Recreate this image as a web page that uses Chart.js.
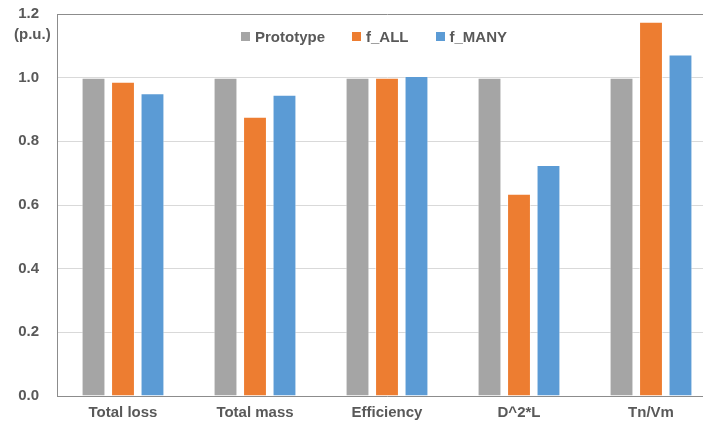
<!DOCTYPE html>
<html>
<head>
<meta charset="utf-8">
<script src="https://cdn.jsdelivr.net/npm/chart.js@4/dist/chart.umd.min.js"></script>
<style>
  html, body { margin: 0; padding: 0; background: #fff; overflow: hidden; }
  #wrap { position: relative; width: 717px; height: 430px; }
  #legend {
    position: absolute; left: 241px; top: 28px;
    display: flex; align-items: center;
    font: bold 15px "Liberation Sans", Arial, sans-serif; color: #595959;
    white-space: nowrap;
  }
  #legend .item { display: flex; align-items: center; margin-right: 27px; }
  #legend .box { width: 9px; height: 9px; margin-right: 5px; }
</style>
</head>
<body>
<div id="wrap"><canvas id="c"></canvas><div id="legend"></div></div>
<script>
// Normalised design metrics (per unit, relative to the prototype)
const categories = ['Total loss', 'Total mass', 'Efficiency', 'D^2*L', 'Tn/Vm'];
const prototype = [1.0, 1.0, 1.0, 1.0, 1.0];
const fAll = [0.987, 0.877, 1.0, 0.635, 1.176];
const fMany = [0.951, 0.946, 1.005, 0.726, 1.073];
const yTicks = [0, 0.2, 0.4, 0.6, 0.8, 1.0, 1.2];
const unitLabel = '(p.u.)';

const textColor = '#595959';
const font = { family: '"Liberation Sans", Arial, sans-serif', size: 15, weight: 'bold' };

// Draws the unit note under the top value label of the y axis
const unitNote = {
  id: 'unitNote',
  afterDraw(chart) {
    const y = chart.scales.y;
    const ctx = chart.ctx;
    ctx.save();
    ctx.font = `bold ${font.size}px ${font.family}`;
    ctx.fillStyle = textColor;
    ctx.textAlign = 'left';
    ctx.textBaseline = 'middle';
    ctx.fillText(unitLabel, 14, y.getPixelForValue(yTicks[yTicks.length - 1]) + 21);
    ctx.restore();
  }
};

const barBorder = 'rgba(255,255,255,0.55)';

const chart = new Chart(document.getElementById('c'), {
  type: 'bar',
  data: {
    labels: categories,
    datasets: [
      { label: 'Prototype', data: prototype, backgroundColor: '#A5A5A5', borderColor: barBorder, borderWidth: 1 },
      { label: 'f_ALL', data: fAll, backgroundColor: '#ED7D31', borderColor: barBorder, borderWidth: 1 },
      { label: 'f_MANY', data: fMany, backgroundColor: '#5B9BD5', borderColor: barBorder, borderWidth: 1 }
    ]
  },
  options: {
    responsive: true,
    maintainAspectRatio: false,
    animation: false,
    layout: { padding: { top: 14, right: 0, bottom: 0, left: 0 } },
    datasets: { bar: { categoryPercentage: 0.67, barPercentage: 0.81 } },
    plugins: {
      legend: { display: false },
      tooltip: { enabled: false }
    },
    scales: {
      x: {
        grid: { display: false, drawTicks: false },
        border: { color: '#8C8C8C', width: 1 },
        ticks: { color: textColor, font: font, padding: 8 }
      },
      y: {
        min: 0,
        max: 1.2,
        afterFit(scale) {
          scale.width = 57;
          scale.paddingTop = 0;
          scale.paddingBottom = 0;
        },
        afterBuildTicks(scale) { scale.ticks = yTicks.map(v => ({ value: v })); },
        grid: {
          drawTicks: false,
          color: ctx => (ctx.tick && ctx.tick.value === 1.2) ? '#8C8C8C' : '#D9D9D9',
          lineWidth: 1
        },
        border: { color: '#8C8C8C', width: 1 },
        ticks: {
          color: textColor,
          font: font,
          padding: 18,
          callback: v => Number(v).toFixed(1)
        }
      }
    }
  },
  plugins: [unitNote]
});

// Series legend placed inside the plot, above the bars
const legend = document.getElementById('legend');
chart.data.datasets.forEach(ds => {
  const item = document.createElement('span');
  item.className = 'item';
  const box = document.createElement('span');
  box.className = 'box';
  box.style.background = ds.backgroundColor;
  const label = document.createElement('span');
  label.textContent = ds.label;
  item.appendChild(box);
  item.appendChild(label);
  legend.appendChild(item);
});
</script>
</body>
</html>
